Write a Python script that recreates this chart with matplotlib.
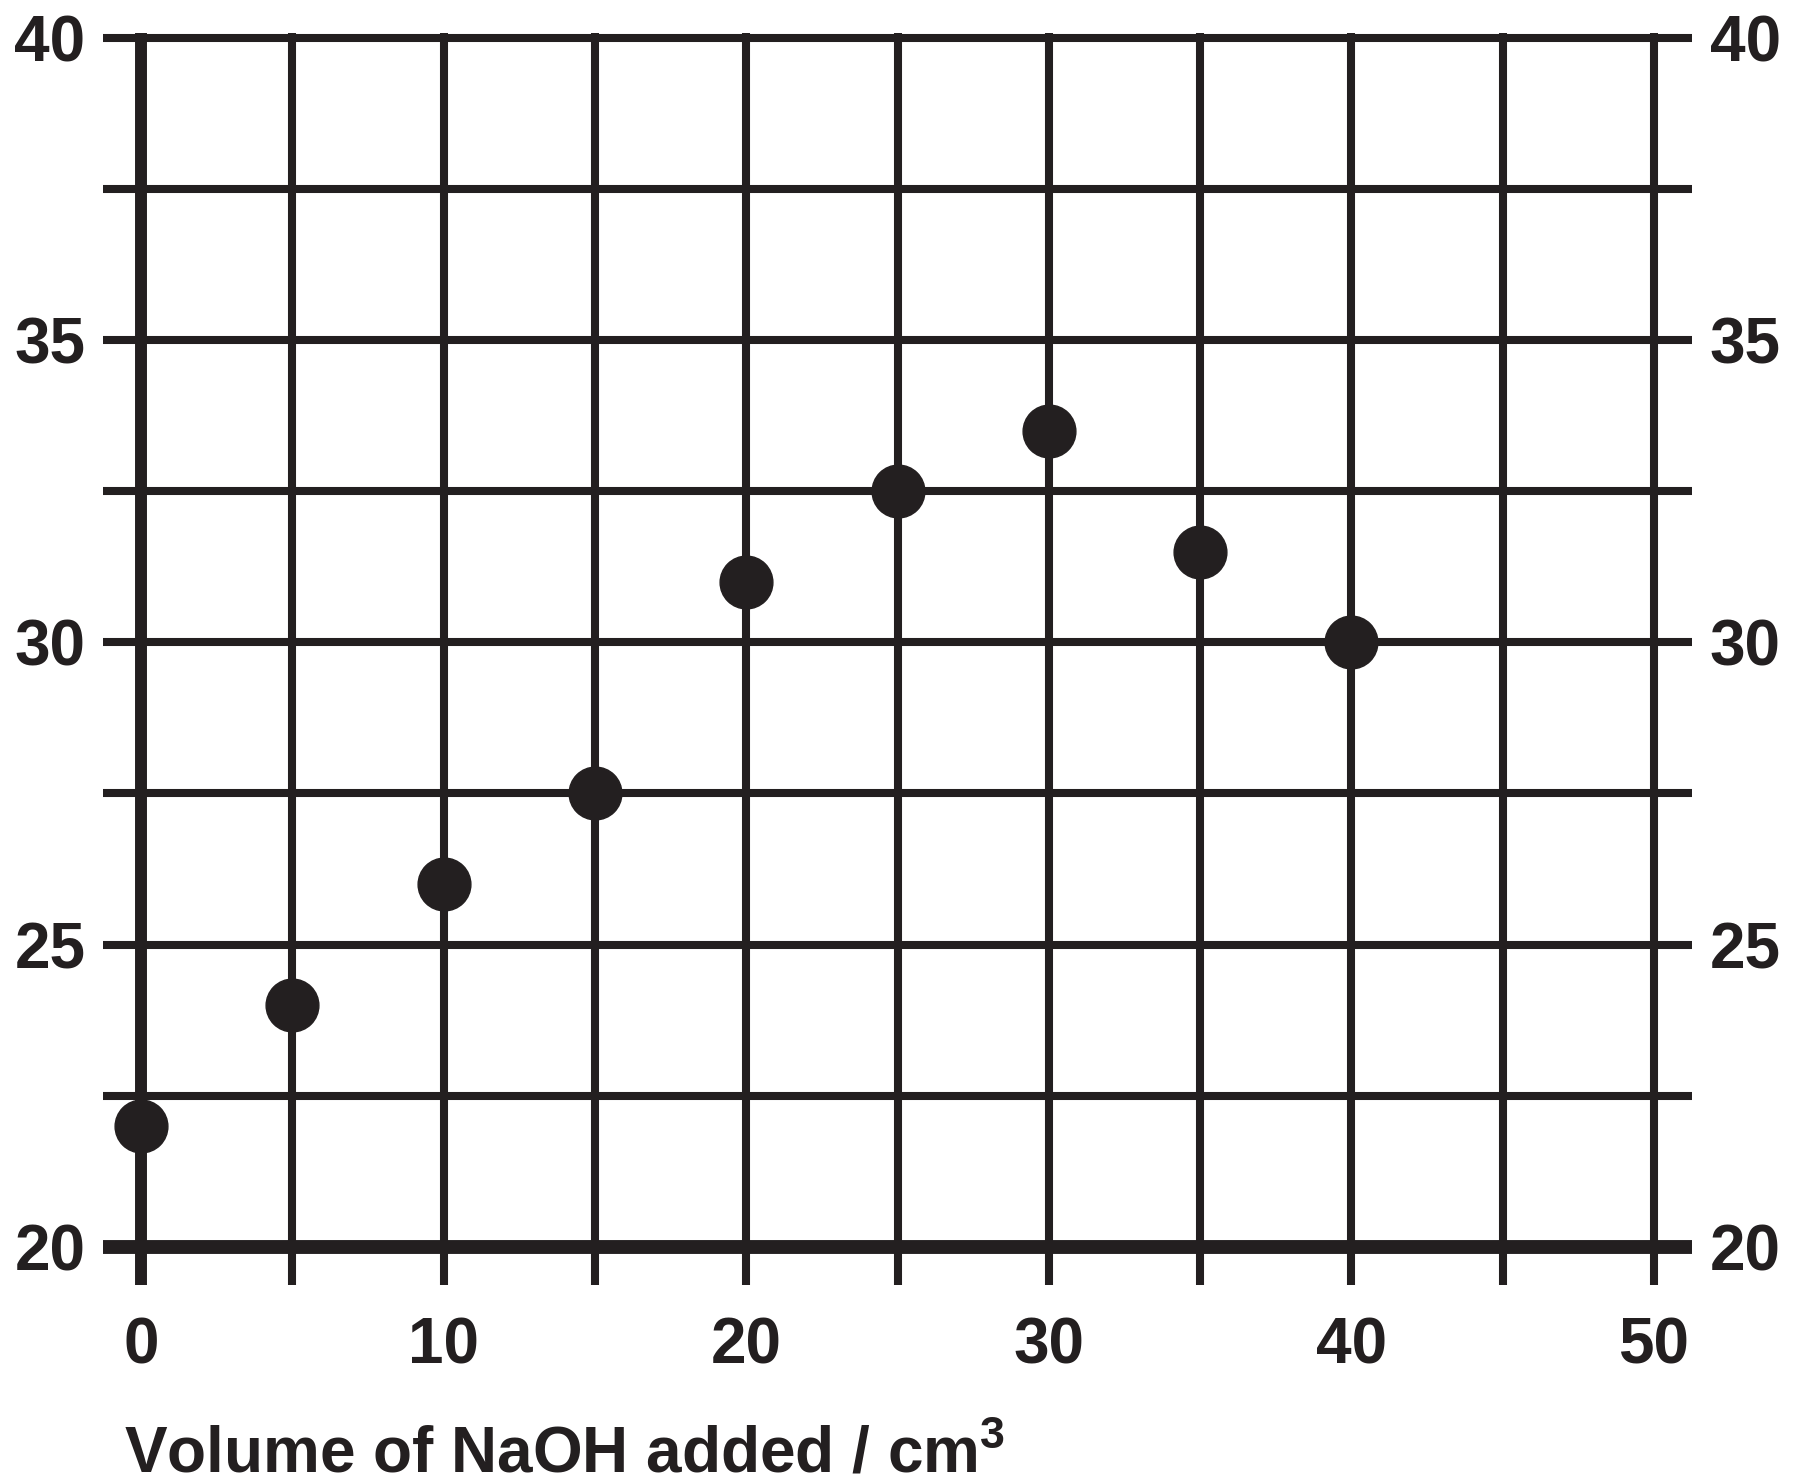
import numpy as np
import matplotlib
matplotlib.use('Agg')
import matplotlib.pyplot as plt

# data
volume = [0, 5, 10, 15, 20, 25, 30, 35, 40]
temperature = [22, 24, 26, 27.5, 31, 32.5, 33.5, 31.5, 30]

x_ticks = [0, 10, 20, 30, 40, 50]
y_ticks = [20, 25, 30, 35, 40]
x_grid = [0, 5, 10, 15, 20, 25, 30, 35, 40, 45, 50]
y_grid = [20, 22.5, 25, 27.5, 30, 32.5, 35, 37.5, 40]

ink = '#231f20'

plt.rcParams['font.family'] = 'Liberation Sans'
plt.rcParams['font.weight'] = 'bold'
plt.rcParams['mathtext.fontset'] = 'custom'
plt.rcParams['mathtext.rm'] = 'Liberation Sans:bold'
plt.rcParams['mathtext.bf'] = 'Liberation Sans:bold'

fig = plt.figure(figsize=(17.98, 14.84), dpi=100)
ax = fig.add_axes([141 / 1798, 1 - 1247 / 1484, 1513 / 1798, 1209.5 / 1484])
ax.set_xlim(0, 50)
ax.set_ylim(20, 40)

# grid lines (drawn by hand so they can stick out past the frame)
for y in y_grid:
    lw = 10 if y == 20 else 5.8
    ax.plot([-1.25, 51.25], [y, y], color=ink, lw=lw, solid_capstyle='butt', clip_on=False, zorder=2)
for x in x_grid:
    lw = 8.6 if x == 0 else 5.8
    ax.plot([x, x], [19.37, 40.07], color=ink, lw=lw, solid_capstyle='butt', clip_on=False, zorder=2)

ax.plot(volume, temperature, 'o', color=ink, markersize=38, clip_on=False, zorder=3)

for s in ax.spines.values():
    s.set_visible(False)

ax.set_xticks(x_ticks)
ax.set_xticklabels([str(v) for v in x_ticks])
ax.set_yticks(y_ticks)
ax.set_yticklabels([str(v) for v in y_ticks])
ax.tick_params(axis='x', length=0, pad=50, labelsize=46, labelcolor=ink)
ax.tick_params(axis='y', length=0, pad=40, labelsize=46, labelcolor=ink,
               right=True, labelright=True)
ax.tick_params(axis='y', which='major', pad=40)
for lab in ax.get_yticklabels():
    lab.set_va('center_baseline')

fig.text(124 / 1798, 11 / 1484, r'Volume of NaOH added / cm$^{3}$', fontsize=46,
         color=ink, fontweight='bold', ha='left', va='baseline')

fig.savefig('out.png', dpi=100)
